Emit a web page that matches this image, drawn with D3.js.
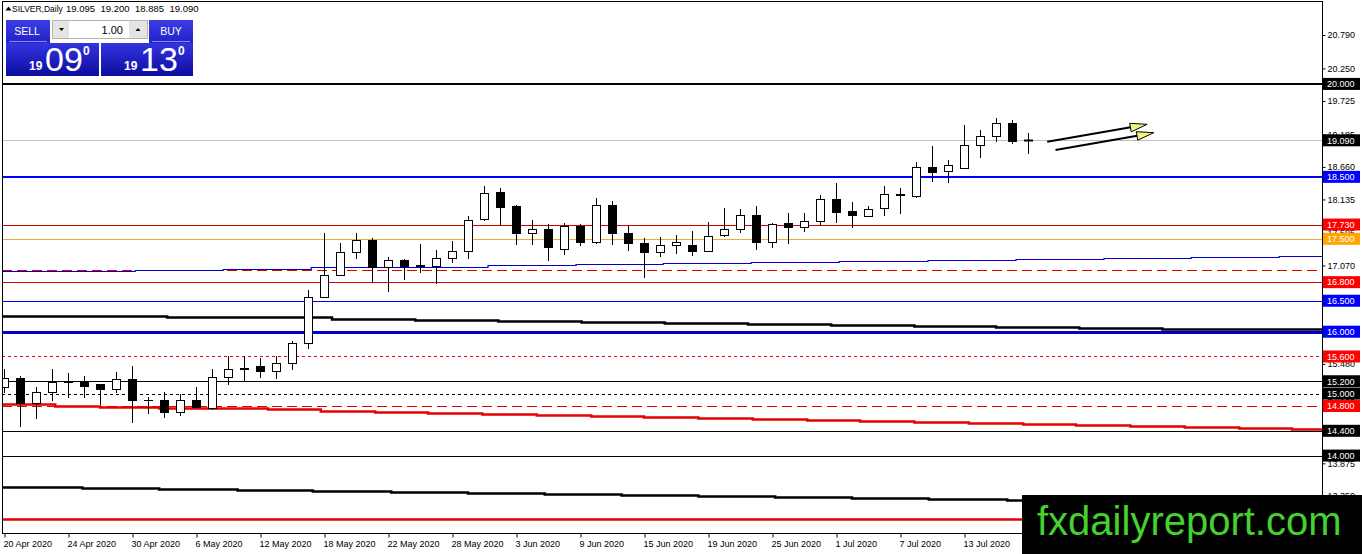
<!DOCTYPE html>
<html>
<head>
<meta charset="utf-8">
<script src="https://cdn.jsdelivr.net/npm/d3@7/dist/d3.min.js"></script>
<style>
  body { margin: 0; background: #fff; }
  svg { display: block; font-family: "Liberation Sans", Arial, sans-serif; }
</style>
</head>
<body>
<svg id="chart" width="1362" height="554"></svg>
<script>

// daily candles, 20 Apr 2020 .. 17 Jul 2020
var tickDates = ['20 Apr 2020', '24 Apr 2020', '30 Apr 2020', '6 May 2020', '12 May 2020', '18 May 2020',
  '22 May 2020', '28 May 2020', '3 Jun 2020', '9 Jun 2020', '15 Jun 2020', '19 Jun 2020',
  '25 Jun 2020', '1 Jul 2020', '7 Jul 2020', '13 Jul 2020'];
var barsPerTick = 4;

var opens = [15.11, 15.26, 14.85, 15.03, 15.18, 15.18, 15.15, 15.08, 15.23, 14.89,
  14.90, 14.71, 14.90, 14.77, 15.27, 15.40, 15.44, 15.37, 15.50, 15.81,
  16.56, 16.92, 17.29, 17.48, 17.05, 17.16, 17.06, 17.06, 17.19, 17.31,
  17.82, 18.26, 18.03, 17.60, 17.66, 17.34, 17.71, 17.45, 18.05, 17.60,
  17.44, 17.29, 17.40, 17.40, 17.31, 17.56, 17.66, 17.89, 17.45, 17.76,
  17.69, 17.79, 18.15, 17.95, 17.87, 18.00, 18.22, 18.19, 18.66, 18.60,
  18.65, 19.02, 19.16, 19.37, 19.095];
var highs = [15.39, 15.29, 15.11, 15.40, 15.34, 15.29, 15.16, 15.35, 15.45, 14.95,
  15.02, 15.00, 15.11, 15.39, 15.60, 15.60, 15.58, 15.61, 15.85, 16.68,
  17.60, 17.44, 17.60, 17.52, 17.21, 17.17, 17.42, 17.32, 17.47, 17.87,
  18.35, 18.32, 18.05, 17.81, 17.74, 17.76, 17.74, 18.16, 18.11, 17.71,
  17.52, 17.53, 17.56, 17.63, 17.77, 18.00, 17.98, 18.03, 17.76, 17.92,
  17.92, 18.21, 18.40, 18.10, 18.03, 18.35, 18.32, 18.74, 19.00, 18.77,
  19.34, 19.26, 19.45, 19.42, 19.20];
var lows = [15.02, 14.47, 14.61, 14.90, 14.95, 14.95, 14.84, 15.03, 14.55, 14.69,
  14.63, 14.66, 14.79, 14.76, 15.15, 15.21, 15.27, 15.26, 15.39, 15.73,
  16.56, 16.92, 17.19, 16.81, 16.66, 16.85, 16.97, 16.79, 17.13, 17.19,
  17.81, 17.73, 17.42, 17.42, 17.16, 17.26, 17.40, 17.44, 17.42, 17.32,
  16.89, 17.23, 17.27, 17.24, 17.30, 17.55, 17.61, 17.34, 17.37, 17.44,
  17.63, 17.73, 17.77, 17.69, 17.86, 17.89, 17.92, 18.18, 18.44, 18.42,
  18.64, 18.82, 19.08, 19.05, 18.885];
var closes = [15.26, 14.85, 15.03, 15.18, 15.19, 15.13, 15.08, 15.23, 14.89, 14.90,
  14.71, 14.89, 14.79, 15.27, 15.40, 15.41, 15.37, 15.50, 15.81, 16.56,
  16.92, 17.29, 17.48, 17.05, 17.15, 17.06, 17.07, 17.19, 17.31, 17.81,
  18.24, 18.02, 17.60, 17.66, 17.36, 17.71, 17.45, 18.05, 17.60, 17.44,
  17.29, 17.40, 17.45, 17.31, 17.55, 17.65, 17.89, 17.45, 17.74, 17.69,
  17.79, 18.15, 17.94, 17.89, 17.98, 18.23, 18.20, 18.66, 18.58, 18.69,
  19.02, 19.16, 19.37, 19.08, 19.09];

var priceTicks = [20.790, 20.250, 19.725, 19.185, 18.660, 18.135, 17.595, 17.070,
  16.545, 16.005, 15.480, 14.955, 14.415, 13.875, 13.350];

// horizontal levels drawn on the chart
var levelPrices = [20.0, 19.09, 18.5, 17.73, 17.5, 17.0, 16.8, 16.5, 16.0, 15.6, 15.2, 15.0, 14.8, 14.4, 14.0, 12.976];
var levelLabelled = [true, true, true, true, true, false, true, true, true, true, true, true, true, true, true, false];

// stepped moving averages: bar index where each step starts, and its value
var maBlueAt = [-1, 8.2, 13.7, 19.2, 24.7, 30.25, 35.75, 41.2, 46.7, 52.2, 57.75, 63.25, 68.75, 74.2, 79.7];
var maBlue = [16.982, 16.994, 17.007, 17.040, 17.049, 17.072, 17.088, 17.109, 17.122, 17.136, 17.152, 17.169, 17.185, 17.201, 17.217];
var maBlackAt = [-1, 5.0, 10.2, 15.3, 20.5, 25.7, 30.9, 36.1, 41.3, 46.5, 51.7, 56.9, 62.0, 67.2, 72.4, 77.6];
var maBlack = [16.253, 16.248, 16.243, 16.237, 16.205, 16.189, 16.173, 16.156, 16.140, 16.124, 16.108, 16.092, 16.076, 16.060, 16.050, 16.043];
var maRedAt = [-1, 3.2, 6.0, 9.7, 13.1, 16.5, 19.8, 23.2, 26.5, 29.9, 33.3, 36.7, 40.0, 43.4, 46.8, 50.2,
  53.5, 56.9, 60.3, 63.7, 67.0, 70.4, 73.8, 77.2, 80.5];
var maRed = [14.828, 14.800, 14.789, 14.773, 14.763, 14.747, 14.724, 14.708, 14.692, 14.676, 14.660, 14.644, 14.628, 14.612, 14.596, 14.580,
  14.563, 14.547, 14.531, 14.515, 14.499, 14.483, 14.467, 14.451, 14.434];
var maLowAt = [-1, 4.9, 9.7, 14.6, 19.3, 24.2, 29.0, 33.8, 38.6, 43.4, 48.2, 53.0, 57.8, 62.7, 67.5, 72.3, 77.1];
var maLow = [13.497, 13.481, 13.465, 13.449, 13.433, 13.417, 13.401, 13.385, 13.368, 13.352, 13.336, 13.320, 13.304, 13.288, 13.272, 13.256, 13.240];

// two drawn arrows: [bar index, price]
var arrowFrom = [[65.20, 19.067], [65.72, 18.933]];
var arrowTo = [[71.45, 19.348], [71.86, 19.213]];

var header = { symbol: 'SILVER,Daily', ohlc: ['19.095', '19.200', '18.885', '19.090'] };
var sellQuote = ['19', '09', '0'];
var buyQuote = ['19', '13', '0'];
var lotSize = '1.00';

// ---- styles ----
var levelStyles = [
  { color: '#000000', w: 2, box: '#000000' },
  { color: '#c0c0c0', w: 1, box: '#000000' },
  { color: '#0000ff', w: 2, box: '#0000ff' },
  { color: '#d00000', w: 1, box: '#ff0000' },
  { color: '#e8b030', w: 1, box: '#ffa500' },
  { color: '#dd0000', w: 1, dash: '10,5' },
  { color: '#dd0000', w: 1, box: '#ff0000' },
  { color: '#0000ff', w: 1, box: '#0000ff' },
  { color: '#0000cc', w: 3, box: '#0000ff' },
  { color: '#ee0000', w: 1, box: '#ff0000', dash: '3,3' },
  { color: '#000000', w: 1, box: '#000000' },
  { color: '#000000', w: 1, box: '#000000', dash: '3,3' },
  { color: '#dd0000', w: 1, box: '#ff0000', dash: '10,5' },
  { color: '#000000', w: 1, box: '#000000' },
  { color: '#000000', w: 1, box: '#000000' },
  { color: '#e00000', w: 2.5 }
];

var plotLeft = 2, plotRight = 1322, plotTop = 1, plotBottom = 533;

var xScale = d3.scaleLinear()
  .domain([0, opens.length - 1])
  .range([4, 4 + 16 * (opens.length - 1)]);   // 16px per bar

var yScale = d3.scaleLinear()
  .domain([12.75, 21.339])
  .range([plotBottom, plotTop]);

var xEnd = xScale.invert(plotRight);

var svg = d3.select('#chart');

var defs = svg.append('defs');
defs.append('clipPath').attr('id', 'plotclip')
  .append('rect')
  .attr('x', plotLeft).attr('y', plotTop)
  .attr('width', plotRight - plotLeft).attr('height', plotBottom - plotTop);

var addGradient = (id, c1, c2) => {
  var g = defs.append('linearGradient').attr('id', id)
    .attr('x1', 0).attr('y1', 0).attr('x2', 0).attr('y2', 1);
  g.append('stop').attr('offset', '0%').attr('stop-color', c1);
  g.append('stop').attr('offset', '100%').attr('stop-color', c2);
}
addGradient('topblue', '#3c3ce4', '#2222c8');
addGradient('quoteblue', '#3434e2', '#0c0c9e');

svg.append('rect').attr('width', 1362).attr('height', 554).attr('fill', '#fff');

var plot = svg.append('g').attr('clip-path', 'url(#plotclip)');

// levels
levelPrices.forEach(function(p, i) {
  var st = levelStyles[i];
  var y = Math.round(yScale(p)) + (st.w % 2 ? 0.5 : 0);
  plot.append('line')
    .attr('x1', plotLeft).attr('x2', plotRight)
    .attr('y1', y).attr('y2', y)
    .attr('stroke', st.color)
    .attr('stroke-width', st.w)
    .attr('stroke-dasharray', st.dash || null);
});

// moving averages
var stepLine = d3.line()
  .x(function(d) { return xScale(d[0]); })
  .y(function(d) { return Math.round(yScale(d[1])) + 0.5; })
  .curve(d3.curveStepAfter);

var drawMA = (at, vals, color, w) => {
  var pts = at.map(function(a, i) { return [a, vals[i]]; });
  pts.push([xEnd + 1, vals[vals.length - 1]]);
  plot.append('path')
    .attr('d', stepLine(pts))
    .attr('fill', 'none')
    .attr('stroke', color)
    .attr('stroke-width', w);
}
drawMA(maBlueAt, maBlue, '#0000cc', 1.2);
drawMA(maBlackAt, maBlack, '#000000', 2.5);
drawMA(maRedAt, maRed, '#e60000', 2.5);
drawMA(maLowAt, maLow, '#000000', 2.5);

// candles
var candles = plot.append('g');
opens.forEach(function(o, i) {
  var c = closes[i];
  var cx = Math.round(xScale(i));
  var yo = yScale(o), yc = yScale(c);
  candles.append('line')
    .attr('x1', cx + 0.5).attr('x2', cx + 0.5)
    .attr('y1', Math.round(yScale(highs[i]))).attr('y2', Math.round(yScale(lows[i])) + 1)
    .attr('stroke', '#000').attr('stroke-width', 1);
  var top = Math.round(Math.min(yo, yc)), bot = Math.round(Math.max(yo, yc));
  if (bot - top < 1) {
    candles.append('line')
      .attr('x1', cx - 4).attr('x2', cx + 5)
      .attr('y1', top + 0.5).attr('y2', top + 0.5)
      .attr('stroke', '#000').attr('stroke-width', c < o ? 2 : 1);
  } else {
    candles.append('rect')
      .attr('x', cx - 3.5).attr('y', top + 0.5)
      .attr('width', 8).attr('height', bot - top)
      .attr('fill', c < o ? '#000' : '#fff')
      .attr('stroke', '#000').attr('stroke-width', 1);
  }
});

// arrows
arrowFrom.forEach(function(a, i) {
  var x1 = xScale(a[0]), y1 = yScale(a[1]);
  var tx = xScale(arrowTo[i][0]), ty = yScale(arrowTo[i][1]);
  plot.append('line')
    .attr('x1', x1).attr('y1', y1)
    .attr('x2', tx - 16.5).attr('y2', ty + 3)
    .attr('stroke', '#000').attr('stroke-width', 2);
  plot.append('polygon')
    .attr('points', [[tx, ty], [tx - 17.5, ty - 1], [tx - 16, ty + 7.5]].join(' '))
    .attr('fill', '#f4f27a')
    .attr('stroke', '#000').attr('stroke-width', 1);
});

// frame
svg.append('rect')
  .attr('x', plotLeft + 0.5).attr('y', plotTop + 0.5)
  .attr('width', plotRight - plotLeft).attr('height', plotBottom - plotTop)
  .attr('fill', 'none').attr('stroke', '#000');

// axes
var xAxis = d3.axisBottom(xScale)
  .tickValues(tickDates.map(function(d, i) { return i * barsPerTick; }))
  .tickFormat(function(d, i) { return tickDates[i]; })
  .tickSize(4)
  .tickPadding(3);

var gx = svg.append('g')
  .attr('transform', 'translate(0.5,' + (plotBottom + 0.5) + ')')
  .call(xAxis);
gx.select('.domain').remove();
gx.selectAll('text')
  .attr('text-anchor', 'start')
  .attr('x', -1.5)
  .attr('fill', '#000')
  .style('font-size', '9px')
  .style('font-family', '"Liberation Sans", Arial, sans-serif');

var yAxis = d3.axisRight(yScale)
  .tickValues(priceTicks)
  .tickFormat(d3.format('.3f'))
  .tickSize(3)
  .tickPadding(2);

var gy = svg.append('g')
  .attr('transform', 'translate(' + (plotRight + 0.5) + ',0)')
  .call(yAxis);
gy.select('.domain').remove();
gy.selectAll('text')
  .attr('fill', '#000')
  .style('font-size', '9px')
  .style('font-family', '"Liberation Sans", Arial, sans-serif');

// level price tags on the axis
var fmt = d3.format('.3f');
levelPrices.forEach(function(p, i) {
  if (!levelLabelled[i]) return;
  var y = yScale(p);
  svg.append('rect')
    .attr('x', plotRight + 1).attr('y', y - 6)
    .attr('width', 37).attr('height', 12)
    .attr('fill', levelStyles[i].box);
  svg.append('text')
    .attr('x', plotRight + 5).attr('y', y + 3.3)
    .attr('fill', '#fff')
    .style('font-size', '9px')
    .text(fmt(p));
});

// watermark
svg.append('rect')
  .attr('x', 1022).attr('y', 495)
  .attr('width', 340).attr('height', 59)
  .attr('fill', '#000');
svg.append('text')
  .attr('x', 1037).attr('y', 535)
  .attr('fill', '#45d22e')
  .style('font-size', '40px')
  .text('fxdailyreport.com');

// header line
svg.append('path')
  .attr('d', 'M5.5,10.5 L8.5,6.5 L11.5,10.5 Z')
  .attr('fill', '#000');
svg.append('text')
  .attr('x', 12).attr('y', 12)
  .style('font-size', '8.5px')
  .text(header.symbol);
header.ohlc.forEach(function(v, i) {
  svg.append('text')
    .attr('x', 66 + i * 34.5).attr('y', 12)
    .style('font-size', '9.5px')
    .text(v);
});

// one-click trading panel
var panel = svg.append('g');
panel.append('rect').attr('x', 6).attr('y', 20).attr('width', 44).attr('height', 23).attr('fill', 'url(#topblue)');
panel.append('rect').attr('x', 149).attr('y', 20).attr('width', 44).attr('height', 23).attr('fill', 'url(#topblue)');
panel.append('line').attr('x1', 9).attr('x2', 47).attr('y1', 41.5).attr('y2', 41.5).attr('stroke', '#8c8cf0');
panel.append('line').attr('x1', 152).attr('x2', 190).attr('y1', 41.5).attr('y2', 41.5).attr('stroke', '#8c8cf0');
panel.append('rect').attr('x', 6).attr('y', 43).attr('width', 93).attr('height', 33).attr('fill', 'url(#quoteblue)');
panel.append('rect').attr('x', 101).attr('y', 43).attr('width', 92).attr('height', 33).attr('fill', 'url(#quoteblue)');

panel.append('text').attr('x', 27).attr('y', 34.5).attr('text-anchor', 'middle')
  .attr('fill', '#fff').style('font-size', '10.5px').text('SELL');
panel.append('text').attr('x', 171).attr('y', 34.5).attr('text-anchor', 'middle')
  .attr('fill', '#fff').style('font-size', '10.5px').text('BUY');

// lot size box
panel.append('rect').attr('x', 52.5).attr('y', 20.5).attr('width', 95).attr('height', 18)
  .attr('fill', '#fff').attr('stroke', '#b4b4b4');
panel.append('rect').attr('x', 53).attr('y', 21).attr('width', 16).attr('height', 17).attr('fill', '#e4e4e4');
panel.append('rect').attr('x', 129).attr('y', 21).attr('width', 18).attr('height', 17).attr('fill', '#e4e4e4');
panel.append('path').attr('d', 'M59,28 L64,28 L61.5,31 Z').attr('fill', '#000');
panel.append('path').attr('d', 'M135.5,31 L140.5,31 L138,28 Z').attr('fill', '#000');
panel.append('text').attr('x', 123).attr('y', 33.5).attr('text-anchor', 'end')
  .style('font-size', '11px').text(lotSize);

var drawQuote = (q, x0) => {
  panel.append('text').attr('x', x0).attr('y', 70).attr('fill', '#fff')
    .style('font-size', '12px').style('font-weight', 'bold').text(q[0]);
  panel.append('text').attr('x', x0 + 16).attr('y', 70.5).attr('fill', '#fff')
    .style('font-size', '34px').text(q[1]);
  panel.append('text').attr('x', x0 + 54).attr('y', 54.5).attr('fill', '#fff')
    .style('font-size', '12px').style('font-weight', 'bold').text(q[2]);
}
drawQuote(sellQuote, 29);
drawQuote(buyQuote, 124);

</script>
</body>
</html>
